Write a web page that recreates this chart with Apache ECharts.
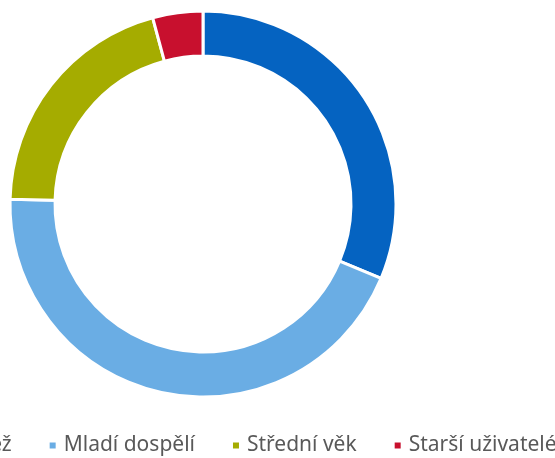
<!DOCTYPE html>
<html>
<head>
<meta charset="utf-8">
<script src="https://cdn.jsdelivr.net/npm/echarts@6/dist/echarts.min.js"></script>
<style>
  html, body { margin: 0; padding: 0; background: #ffffff; }
  #chart { width: 555px; height: 458px; }
</style>
</head>
<body>
<div id="chart"></div>
<script>
// kategorie a podíly (%)
var categories = ['Mládež', 'Mladí dospělí', 'Střední věk', 'Starší uživatelé']
var shares = [31.3, 44.1, 20.4, 4.2]
var colors = ['#0563c1', '#6aade4', '#a5ac00', '#c8102e']

var chart = echarts.init(document.getElementById('chart'))
var option = {
  animation: false,
  color: colors,
  legend: {
    data: categories,
    orient: 'horizontal',
    left: -80,
    top: 430,
    width: 900, // legenda přesahuje plátno, nezalamovat
    icon: 'rect',
    itemWidth: 8,
    itemHeight: 8,
    itemGap: 36,
    textStyle: {
      color: '#595959',
      fontSize: 21,
      fontFamily: 'Noto Sans',
      padding: [0, 0, 0, 2]
    }
  },
  series: [
    {
      type: 'pie',
      center: [203, 204],
      radius: [148, 193],
      startAngle: 90,
      clockwise: true,
      label: { show: false },
      labelLine: { show: false },
      emphasis: { disabled: true },
      itemStyle: {
        borderColor: '#ffffff',
        borderWidth: 3
      },
      data: categories.map(function (name, i) {
        return { name: name, value: shares[i] }
      })
    }
  ]
}
chart.setOption(option)
</script>
</body>
</html>
